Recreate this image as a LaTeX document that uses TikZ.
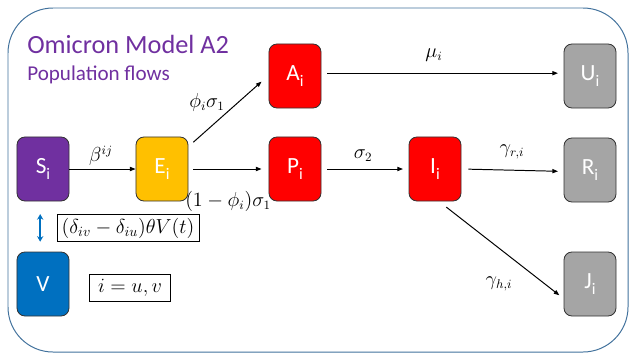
\documentclass[tikz,border=0pt]{standalone}
\usepackage{fontspec}
\setmainfont{Carlito}
\usepackage{tikz}
\usetikzlibrary{arrows.meta}
\usepackage{amsmath}
\usepackage{xcolor}

\definecolor{omipurple}{HTML}{7030A0}
\definecolor{omigold}{HTML}{FFC000}
\definecolor{omired}{HTML}{FF0000}
\definecolor{omigray}{HTML}{A5A5A5}
\definecolor{omiblue}{HTML}{0070C0}
\definecolor{framecol}{HTML}{41719C}

% lowered index on compartment names
\newcommand{\compidx}[1]{\raisebox{-0.55ex}{\fontsize{11.5}{12}\selectfont #1}}

\tikzset{
    comp/.style={draw=black!80, line width=0.6pt, rounded corners=0.2cm, minimum width=1.3cm, minimum height=1.6cm, text=white, font=\fontsize{16.5}{18}\selectfont},
    flow/.style={draw=black, line width=0.7pt, -{Triangle[length=4pt,width=3pt]}},
    rate/.style={font=\fontsize{13.5}{16}\selectfont},
    termbox/.style={draw=black, line width=0.6pt, minimum height=0.68cm, inner sep=2pt, font=\fontsize{14}{16}\selectfont}
}

\begin{document}
\begin{tikzpicture}[x=0.025cm, y=-0.025cm]
            \useasboundingbox (0,0) rectangle (630,357);
            % outer frame
            \draw[framecol, line width=0.7pt, rounded corners=1.125cm] (8,8) rectangle (628,352);

            % title
            \node[anchor=base west, text=omipurple, font=\fontsize{18.7}{22}\selectfont, inner sep=0pt] (title) at (27,53) {Omicron Model A2};
            \node[anchor=base west, text=omipurple, font=\fontsize{15}{18}\selectfont, inner sep=0pt] (subtitle) at (27,80) {Population flows};

            % compartments
            \node[comp, fill=omipurple] (S) at (43,169) {S\compidx{i}};
            \node[comp, fill=omigold] (E) at (162,169) {E\compidx{i}};
            \node[comp, fill=omired] (A) at (295,76) {A\compidx{i}};
            \node[comp, fill=omired] (P) at (295,169) {P\compidx{i}};
            \node[comp, fill=omired] (I) at (435,169) {I\compidx{i}};
            \node[comp, fill=omigray] (U) at (590,76) {U\compidx{i}};
            \node[comp, fill=omigray] (R) at (590,170) {R\compidx{i}};
            \node[comp, fill=omigray] (J) at (590,284) {J\compidx{i}};
            \node[comp, fill=omiblue] (V) at (43,284) {V};

            % flows between compartments
            \draw[flow] (S.east) -- (E.west);
            \draw[flow, shorten <=3.5pt, shorten >=5pt] (E.east) -- (P.west);
            \draw[flow] ([shift={(3.5pt,-4pt)}]E.north east) -- ([shift={(-5pt,-4pt)}]A.west);
            \draw[flow] ([shift={(4pt,2pt)}]A.east) -- ([shift={(-4pt,2pt)}]U.west);
            \draw[flow, shorten <=4pt, shorten >=4pt] (P.east) -- (I.west);
            \draw[flow, shorten <=5pt, shorten >=4pt] (I.east) -- ([yshift=-1pt]R.west);
            \draw[flow] ([shift={(8pt,-4pt)}]I.south) -- ([shift={(-3pt,-8pt)}]J.west);
            \draw[omiblue, line width=1.4pt, {Stealth[length=4pt,width=4.5pt]}-{Stealth[length=4pt,width=4.5pt]}] ([shift={(-2pt,-9pt)}]S.south) -- ([shift={(-2pt,7pt)}]V.north);

            % rates
            \node[rate] (beta) at (101,156) {$\beta^{ij}$};
            \node[rate] (phisig) at (207,102) {$\phi_i\sigma_1$};
            \node[rate] (onephi) at (228,201) {$(1-\phi_i)\sigma_1$};
            \node[rate] (mu) at (434,55) {$\mu_i$};
            \node[rate] (sig2) at (363,156) {$\sigma_2$};
            \node[rate] (gamr) at (512,152) {$\gamma_{r,i}$};
            \node[rate] (gamh) at (499,284) {$\gamma_{h,i}$};

            % vaccination term and index set
            \node[termbox, minimum width=3.55cm] (vacc) at (128,228) {$(\delta_{iv}-\delta_{iu})\theta V(t)$};
            \node[termbox, minimum width=2.025cm] (index) at (130,288) {$i=u,v$};
        \end{tikzpicture}
\end{document}
